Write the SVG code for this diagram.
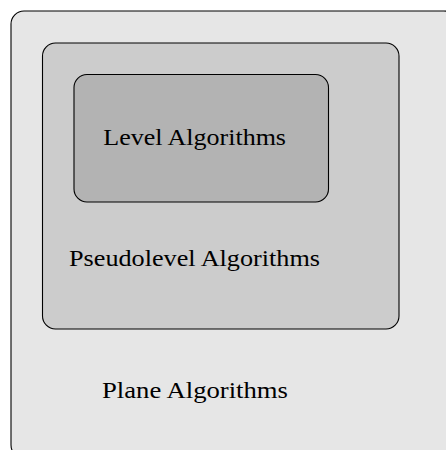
<svg xmlns="http://www.w3.org/2000/svg" width="446" height="450" viewBox="0 0 446 450">
<style>
.box{stroke:#000;stroke-width:1.1}
.t{font-family:"Liberation Serif","DejaVu Serif",serif;font-size:23px;fill:#000}
</style>
<rect width="446" height="450" fill="#fff"/>
<g id="plane">
<rect class="box" x="11" y="11" width="446" height="447" rx="13" fill="#e6e6e6"/>
<text class="t" x="102" y="397.5" textLength="186" lengthAdjust="spacingAndGlyphs">Plane Algorithms</text>
</g>
<g id="pseudolevel">
<rect class="box" x="42.5" y="43" width="356.5" height="286" rx="13" fill="#cccccc"/>
<text class="t" x="69" y="266" textLength="251" lengthAdjust="spacingAndGlyphs">Pseudolevel Algorithms</text>
</g>
<g id="level">
<rect class="box" x="74" y="74.5" width="254.5" height="127.5" rx="13" fill="#b3b3b3"/>
<text class="t" x="103.3" y="145" textLength="182.7" lengthAdjust="spacingAndGlyphs">Level Algorithms</text>
</g>
<g id="connectors"></g>
</svg>
